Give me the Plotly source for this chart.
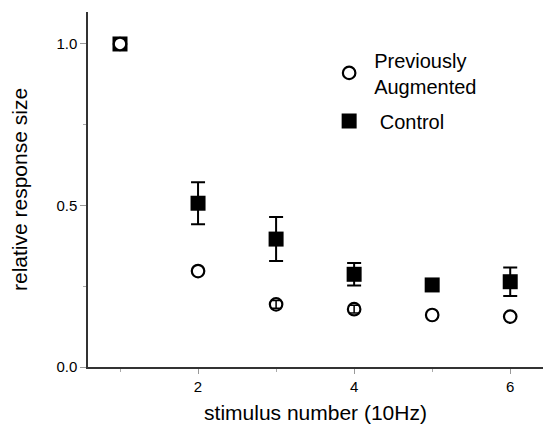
import plotly.graph_objects as go

stimulus = [1, 2, 3, 4, 5, 6]
control = [1.0, 0.507, 0.396, 0.287, 0.254, 0.264]
control_err = [0.0, 0.065, 0.068, 0.035, 0.0, 0.044]
augmented = [1.0, 0.297, 0.194, 0.179, 0.161, 0.156]
augmented_err = [0.0, 0.0, 0.012, 0.012, 0.0, 0.0]

font = "Liberation Sans, Arial, sans-serif"

# only points that carry a visible error bar
c_idx = [i for i, e in enumerate(control_err) if e > 0]
a_idx = [i for i, e in enumerate(augmented_err) if e > 0]

fig = go.Figure()
fig.add_trace(go.Scatter(
    x=[stimulus[i] for i in c_idx], y=[control[i] for i in c_idx],
    mode="markers", showlegend=False, hoverinfo="skip", legendgroup="c",
    marker=dict(size=1, opacity=0),
    error_y=dict(type="data", array=[control_err[i] for i in c_idx], visible=True,
                 color="black", thickness=2, width=7),
))
fig.add_trace(go.Scatter(
    x=stimulus, y=control, mode="markers", name=" Control", legendgroup="c",
    legendrank=2,
    marker=dict(symbol="square", size=15, color="black", line=dict(width=0)),
))
fig.add_trace(go.Scatter(
    x=stimulus, y=augmented, mode="markers", name="Previously<br>Augmented",
    legendgroup="a", legendrank=1,
    marker=dict(symbol="circle", size=12.5, color="white", line=dict(width=2.2, color="black")),
))
fig.add_trace(go.Scatter(
    x=[stimulus[i] for i in a_idx], y=[augmented[i] for i in a_idx],
    mode="markers", showlegend=False, hoverinfo="skip", legendgroup="a",
    marker=dict(size=1, opacity=0),
    error_y=dict(type="data", array=[augmented_err[i] for i in a_idx], visible=True,
                 color="black", thickness=1.5, width=5),
))

fig.update_layout(
    width=543, height=428,
    margin=dict(l=88, r=0, t=12, b=61),
    paper_bgcolor="white", plot_bgcolor="white",
    font=dict(family=font, color="black"),
    showlegend=True,
    legend=dict(
        x=0.519, y=0.92, xanchor="left", yanchor="top",
        traceorder="grouped",
        font=dict(size=20, family=font),
        bgcolor="rgba(0,0,0,0)", itemsizing="trace", itemwidth=40,
        tracegroupgap=6,
    ),
    xaxis=dict(
        range=[0.59, 6.42], showgrid=False, zeroline=False,
        showline=True, linecolor="#333", linewidth=1.5,
        tickmode="array", tickvals=[2, 4, 6], ticktext=["2", "4", "6"],
        ticks="outside", ticklen=5, tickcolor="#999", tickwidth=1,
        minor=dict(tickvals=[1, 3, 5], ticks="outside", ticklen=3, tickcolor="#aaa"),
        tickfont=dict(size=15, family=font),
        title=dict(text="stimulus number (10Hz)", font=dict(size=21, family=font), standoff=12),
    ),
    yaxis=dict(
        range=[0, 1.099], showgrid=False, zeroline=False,
        showline=True, linecolor="#333", linewidth=1.5,
        tickmode="array", tickvals=[0, 0.5, 1.0], ticktext=["0.0", "0.5", "1.0"],
        ticks="outside", ticklen=6, tickcolor="#999", tickwidth=1,
        minor=dict(tickvals=[0.25, 0.75], ticks="outside", ticklen=3, tickcolor="#aaa"),
        tickfont=dict(size=15, family=font),
        title=dict(text="relative response size", font=dict(size=21, family=font), standoff=23),
    ),
)

fig.write_html("out.html")
